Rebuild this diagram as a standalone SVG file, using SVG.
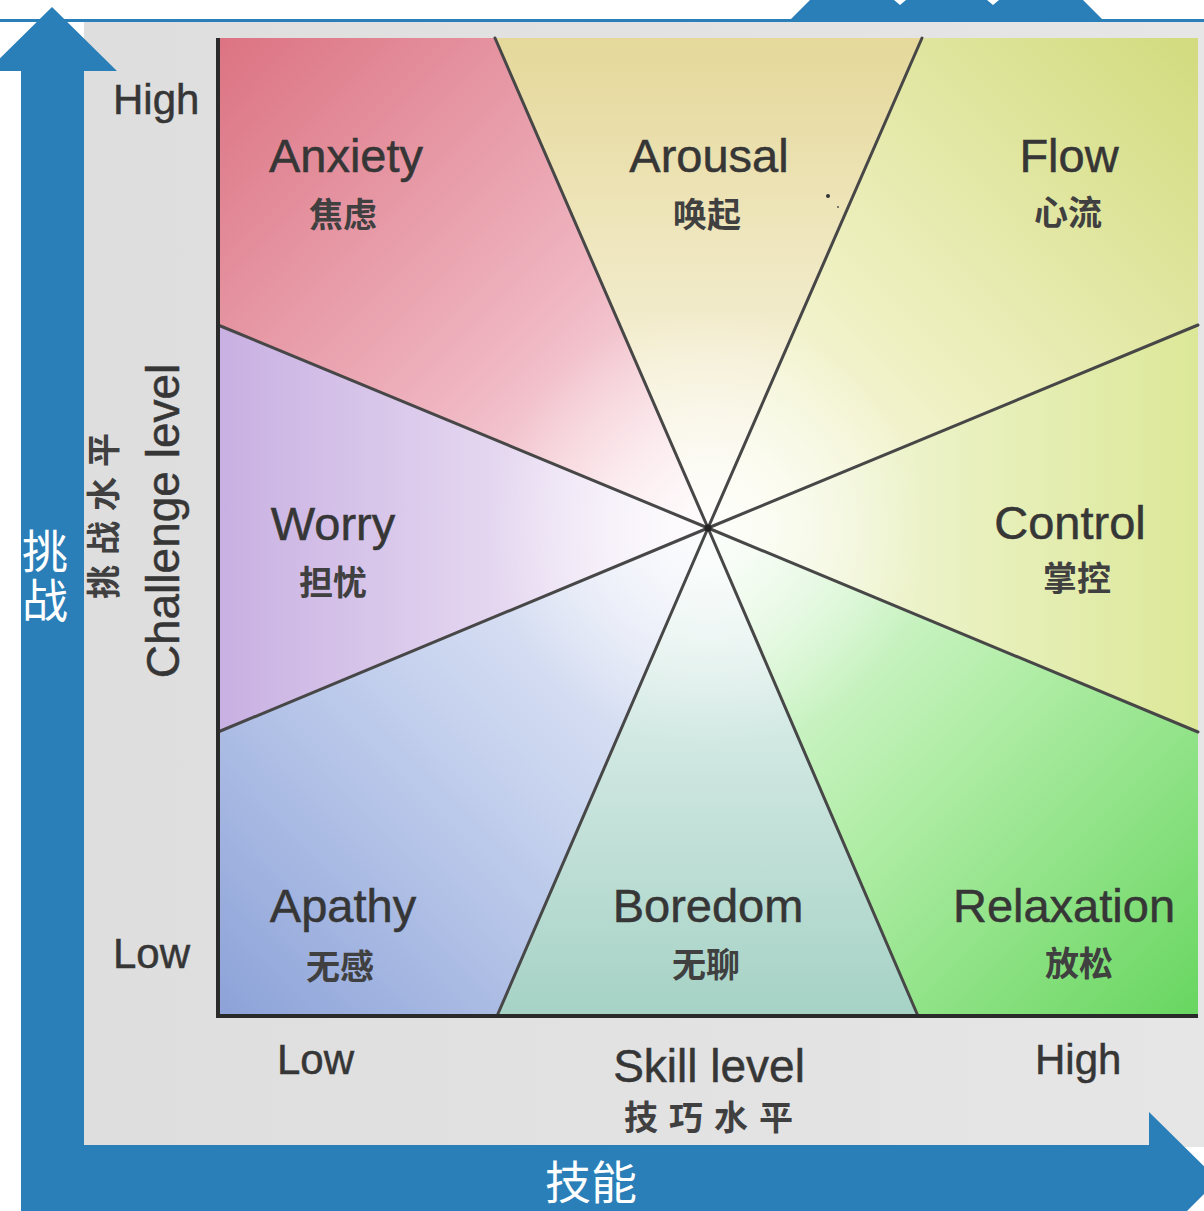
<svg xmlns="http://www.w3.org/2000/svg" width="1204" height="1211" viewBox="0 0 1204 1211">
<style>
.en{font-family:"Liberation Sans",Arial,sans-serif;fill:#363636;stroke:#363636;stroke-width:0.5;}
.lab{font-size:47px;text-anchor:middle;}
.zh{font-family:"Noto Sans CJK SC",sans-serif;font-weight:700;fill:#404040;font-size:34px;text-anchor:middle;}
.ax{font-size:42px;}
.wh{font-family:"Noto Sans CJK SC",sans-serif;fill:#ffffff;font-size:46px;text-anchor:middle;}
.div{stroke:#474747;stroke-width:3;stroke-linecap:round;fill:none;}
.blue{fill:#2a7fb8;}
</style>
<defs>
<linearGradient id="gAnx" gradientUnits="userSpaceOnUse" x1="218" y1="38" x2="708" y2="528"><stop offset="0" stop-color="#dc7382"/><stop offset="0.6" stop-color="#efb4c0"/><stop offset="1" stop-color="#fdf0f3"/></linearGradient>
<linearGradient id="gAro" gradientUnits="userSpaceOnUse" x1="708" y1="38" x2="708" y2="528"><stop offset="0" stop-color="#e5d89a"/><stop offset="1" stop-color="#fcfaf0"/></linearGradient>
<linearGradient id="gFlo" gradientUnits="userSpaceOnUse" x1="1198" y1="38" x2="708" y2="528"><stop offset="0" stop-color="#d2db7e"/><stop offset="0.6" stop-color="#eef0c0"/><stop offset="1" stop-color="#fbfbee"/></linearGradient>
<linearGradient id="gCon" gradientUnits="userSpaceOnUse" x1="1198" y1="528" x2="708" y2="528"><stop offset="0" stop-color="#dce898"/><stop offset="1" stop-color="#f8faec"/></linearGradient>
<linearGradient id="gRel" gradientUnits="userSpaceOnUse" x1="1198" y1="1016" x2="708" y2="528"><stop offset="0" stop-color="#68d660"/><stop offset="0.55" stop-color="#b4eeaa"/><stop offset="1" stop-color="#f0fbee"/></linearGradient>
<linearGradient id="gBor" gradientUnits="userSpaceOnUse" x1="708" y1="1016" x2="708" y2="528"><stop offset="0" stop-color="#a6d2c6"/><stop offset="1" stop-color="#f2f9f7"/></linearGradient>
<linearGradient id="gApa" gradientUnits="userSpaceOnUse" x1="218" y1="1016" x2="708" y2="528"><stop offset="0" stop-color="#8ca2d8"/><stop offset="0.55" stop-color="#c6d2ee"/><stop offset="1" stop-color="#f2f3fa"/></linearGradient>
<linearGradient id="gWor" gradientUnits="userSpaceOnUse" x1="218" y1="528" x2="708" y2="528"><stop offset="0" stop-color="#c8b0e2"/><stop offset="1" stop-color="#faf4fb"/></linearGradient>
<radialGradient id="gGlow" gradientUnits="userSpaceOnUse" cx="708" cy="528" r="220"><stop offset="0" stop-color="#ffffff" stop-opacity="0.8"/><stop offset="1" stop-color="#ffffff" stop-opacity="0"/></radialGradient>
<linearGradient id="gBg" x1="0" y1="0" x2="1" y2="0"><stop offset="0" stop-color="#dedede"/><stop offset="1" stop-color="#e6e6e6"/></linearGradient>
</defs>

<rect x="0" y="0" width="1204" height="1211" fill="#ffffff"/>
<rect x="84" y="22" width="1120" height="1125" fill="url(#gBg)"/>

<g id="regions">
<g id="anxiety">
<polygon points="708,528 218,325 218,38 495,38" fill="url(#gAnx)"/>
<text class="en lab" x="346" y="172">Anxiety</text>
<text class="zh" x="343" y="227">焦虑</text>
</g>
<g id="arousal">
<polygon points="708,528 495,38 922,38" fill="url(#gAro)"/>
<text class="en lab" x="709" y="172">Arousal</text>
<text class="zh" x="707" y="227">唤起</text>
<circle cx="828" cy="196" r="2" fill="#333"/>
<circle cx="838" cy="207" r="1" fill="#555"/>
</g>
<g id="flow">
<polygon points="708,528 922,38 1198,38 1198,325" fill="url(#gFlo)"/>
<text class="en lab" x="1069" y="172">Flow</text>
<text class="zh" x="1068" y="225">心流</text>
</g>
<g id="control">
<polygon points="708,528 1198,325 1198,732" fill="url(#gCon)"/>
<text class="en lab" x="1070" y="539">Control</text>
<text class="zh" x="1077" y="591">掌控</text>
</g>
<g id="relaxation">
<polygon points="708,528 1198,732 1198,1016 918,1016" fill="url(#gRel)"/>
<text class="en lab" x="1064" y="922">Relaxation</text>
<text class="zh" x="1079" y="976">放松</text>
</g>
<g id="boredom">
<polygon points="708,528 918,1016 497,1016" fill="url(#gBor)"/>
<text class="en lab" x="708" y="922">Boredom</text>
<text class="zh" x="706" y="977">无聊</text>
</g>
<g id="apathy">
<polygon points="708,528 497,1016 218,1016 218,732" fill="url(#gApa)"/>
<text class="en lab" x="343" y="922">Apathy</text>
<text class="zh" x="340" y="979">无感</text>
</g>
<g id="worry">
<polygon points="708,528 218,732 218,325" fill="url(#gWor)"/>
<text class="en lab" x="333" y="540">Worry</text>
<text class="zh" x="333" y="595">担忧</text>
</g>
</g>

<circle cx="708" cy="528" r="220" fill="url(#gGlow)"/>

<g id="connectors">
<line class="div" x1="708" y1="528" x2="495" y2="38"/>
<line class="div" x1="708" y1="528" x2="922" y2="38"/>
<line class="div" x1="708" y1="528" x2="1198" y2="325"/>
<line class="div" x1="708" y1="528" x2="1198" y2="732"/>
<line class="div" x1="708" y1="528" x2="918" y2="1016"/>
<line class="div" x1="708" y1="528" x2="497" y2="1016"/>
<line class="div" x1="708" y1="528" x2="218" y2="732"/>
<line class="div" x1="708" y1="528" x2="218" y2="325"/>
<circle cx="708" cy="528" r="3.5" fill="#222"/>
<path d="M218,38 L218,1016 L1198,1016" fill="none" stroke="#2a2a2a" stroke-width="4"/>
</g>

<g id="axis-labels">
<text class="en ax" x="113" y="114">High</text>
<text class="en ax" x="113" y="968">Low</text>
<text class="en ax" x="277" y="1074">Low</text>
<text class="en ax" x="1035" y="1074">High</text>
<text class="en" x="709" y="1082" font-size="46" text-anchor="middle">Skill level</text>
<text class="zh" x="714" y="1130" font-size="31" letter-spacing="11">技巧水平</text>
<text class="en" transform="translate(179,521) rotate(-90)" font-size="46" text-anchor="middle">Challenge level</text>
<text class="zh" transform="translate(116,511) rotate(-90)" font-size="30" letter-spacing="10">挑战水平</text>
</g>

<g id="arrows">
<polygon class="blue" points="0,19 1204,19 1204,22 0,22"/>
<polygon class="blue" points="52,7 117,71 84,71 84,1145 1149,1145 1149,1112 1218,1180 1149,1249 1149,1215 21,1215 21,71 -13,71"/>
<polygon class="blue" points="790,20 810,0 894,0 900,5 906,0 987,0 993,5 999,0 1083,0 1103,20"/>
<text class="wh"><tspan x="45" y="568">挑</tspan><tspan x="45" y="617">战</tspan></text>
<text class="wh" x="591" y="1199">技能</text>
</g>
</svg>
